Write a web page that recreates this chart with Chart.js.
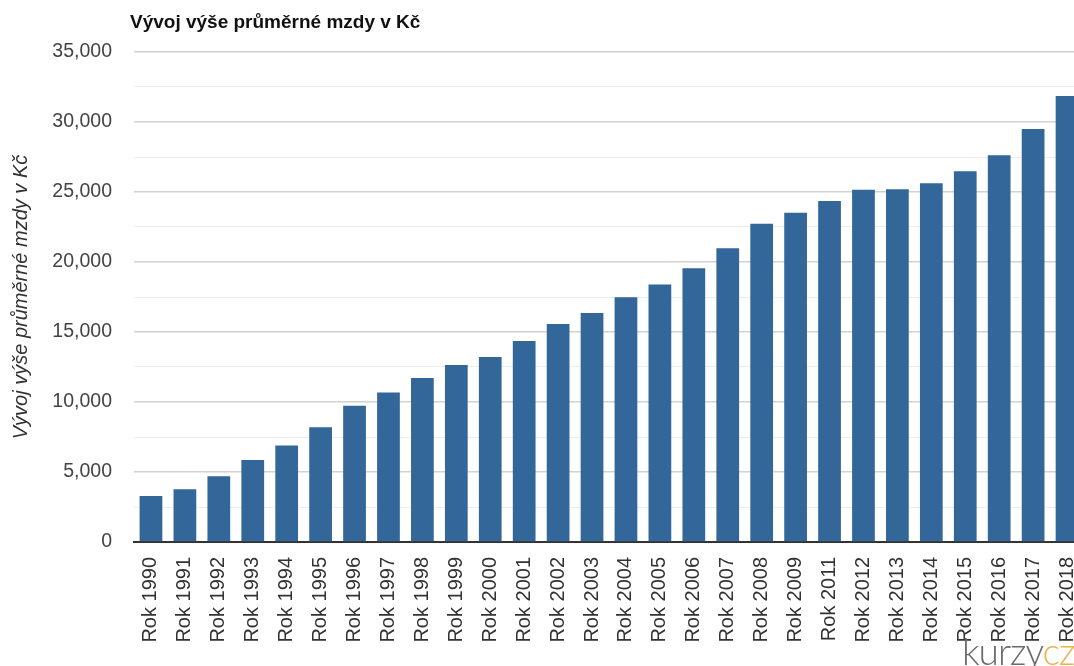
<!DOCTYPE html>
<html>
<head>
<meta charset="utf-8">
<script src="https://cdn.jsdelivr.net/npm/chart.js@4"></script>
<style>
  body { margin: 0; overflow: hidden; background: #fff; }
  #wrap { position: relative; width: 1084px; height: 666px; }
  #logo {
    position: absolute; left: 962px; top: 632px;
    font-family: Lato, sans-serif; font-weight: 300; font-size: 37px;
    letter-spacing: -1px; color: #6b6b6b; line-height: 1;
  }
  #logo span { color: #e8b44c; }
</style>
</head>
<body>
<div id="wrap">
  <canvas id="chart"></canvas>
  <div id="logo">kurzy<span>cz</span></div>
</div>
<script>
const title = 'Vývoj výše průměrné mzdy v Kč'

// 2010 is missing in the source
const years = [
  1990, 1991, 1992, 1993, 1994, 1995, 1996, 1997, 1998, 1999,
  2000, 2001, 2002, 2003, 2004, 2005, 2006, 2007, 2008, 2009,
  2011, 2012, 2013, 2014, 2015, 2016, 2017, 2018
]
const wages = [
  3286, 3760, 4690, 5860, 6900, 8190, 9740, 10670, 11710, 12640,
  13210, 14360, 15570, 16360, 17480, 18400, 19550, 20980, 22740, 23520,
  24360, 25160, 25190, 25620, 26480, 27620, 29500, 31860
]
const yTicks = [0, 5000, 10000, 15000, 20000, 25000, 30000, 35000]

const labels = years.map(y => 'Rok ' + y)

// chart title sits over the left edge of the plot, so draw it by hand
const titlePlugin = {
  id: 'leftTitle',
  afterDraw: (chart) => {
    const ctx = chart.ctx
    ctx.save()
    ctx.font = 'bold 19px "Liberation Sans", Arial, sans-serif'
    ctx.fillStyle = '#111'
    ctx.textBaseline = 'middle'
    ctx.textAlign = 'left'
    ctx.fillText(title, 130, 23)
    ctx.restore()
  }
}

const isMajor = (v) => yTicks.includes(v)

new Chart(document.getElementById('chart').getContext('2d'), {
  type: 'bar',
  data: {
    labels: labels,
    datasets: [{
      label: title,
      data: wages,
      backgroundColor: '#336699',
      borderWidth: 0,
      barPercentage: 0.67,
      categoryPercentage: 1
    }]
  },
  options: {
    responsive: true,
    maintainAspectRatio: false,
    animation: false,
    layout: { padding: { top: 52, left: 0, right: 0, bottom: 0 } },
    plugins: {
      legend: { display: false },
      tooltip: { enabled: false }
    },
    scales: {
      x: {
        afterFit: (scale) => {
          scale.height = 124
          // no extra room for the rotated last label, plot runs to the edge
          scale.paddingLeft = 0
          scale.paddingRight = 0
        },
        grid: { display: false, drawTicks: false },
        border: { display: true, color: '#333', width: 2 },
        ticks: {
          autoSkip: false,
          maxRotation: 90,
          minRotation: 90,
          padding: 15,
          color: '#333',
          font: { family: '"Liberation Sans", Arial, sans-serif', size: 20 }
        }
      },
      y: {
        min: 0,
        max: 35000,
        afterFit: (scale) => { scale.width = 134 },
        border: { display: false },
        grid: {
          drawTicks: false,
          color: (c) => isMajor(c.tick.value) ? '#d2d2d2' : '#ececec',
          lineWidth: (c) => isMajor(c.tick.value) ? 1.6 : 1
        },
        ticks: {
          stepSize: 2500,
          padding: 22,
          color: '#444',
          font: { family: '"Liberation Sans", Arial, sans-serif', size: 19.5 },
          callback: (v) => isMajor(v) ? v.toLocaleString('en-US') : ''
        },
        title: {
          display: true,
          text: title,
          color: '#333',
          padding: { top: 9, bottom: 0 },
          font: { family: '"Liberation Sans", Arial, sans-serif', size: 20, style: 'italic' }
        }
      }
    }
  },
  plugins: [titlePlugin]
})
</script>
</body>
</html>
